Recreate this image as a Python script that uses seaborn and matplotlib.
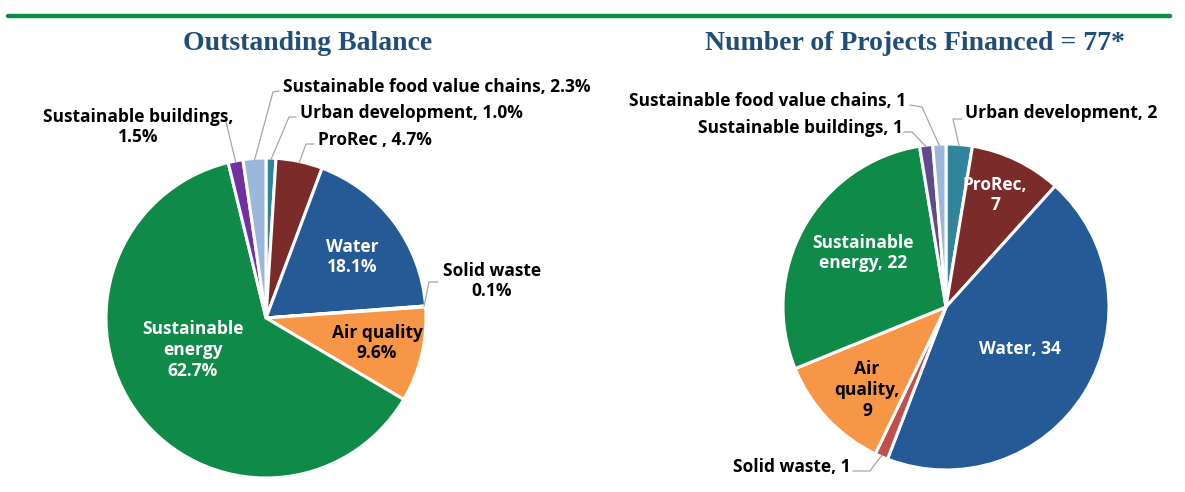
import matplotlib
matplotlib.use("Agg")
import matplotlib.pyplot as plt
import numpy as np
import seaborn as sns

# sectors in clockwise order starting at 12 o'clock
sectors = ["Urban development", "ProRec", "Water", "Solid waste", "Air quality",
           "Sustainable energy", "Sustainable buildings", "Sustainable food value chains"]
balance_pct = [1.0, 4.7, 18.1, 0.1, 9.6, 62.7, 1.5, 2.3]
projects = [2, 7, 34, 1, 9, 22, 1, 1]

left_title = "Outstanding Balance"
right_title = "Number of Projects Financed = 77*"

left_colors = ["#31849B", "#7B2C2A", "#255A96", "#C0504D", "#F79646",
               "#0F8A48", "#7030A0", "#9BB8DC"]
right_colors = ["#31849B", "#7B2C2A", "#255A96", "#C0504D", "#F79646",
                "#0F8A48", "#5F4A8B", "#9BB8DC"]

sns.set_theme(style="white")
plt.rcParams["font.family"] = ["Open Sans", "DejaVu Sans"]

W, H = 1185, 492
fig = plt.figure(figsize=(W / 100, H / 100), dpi=100)
fig.patch.set_facecolor("white")

# green rule across the top
fig.add_artist(plt.Line2D([8 / W, 1170 / W], [1 - 15.5 / H, 1 - 15.5 / H],
                          color="#0F8A48", linewidth=3.2))

title_kw = dict(family=["Liberation Serif", "DejaVu Serif"], weight="bold",
                color="#1F4E79", fontsize=20, ha="center", va="center")
fig.text(308 / W, 1 - 43 / H, left_title, **title_kw)
fig.text(915 / W, 1 - 43 / H, right_title, **title_kw)


def pie_axes(values, colors, cx, cy, r, x0, x1):
    ax = fig.add_axes([x0 / W, 0, (x1 - x0) / W, 1])
    wedges, _ = ax.pie(values, colors=colors, startangle=90, counterclock=False,
                       radius=1.0, wedgeprops=dict(edgecolor="white", linewidth=2.2))
    ax.set_aspect("auto")
    ax.set_xlim((x0 - cx) / r, (x1 - cx) / r)
    ax.set_ylim(-(H - cy) / r, cy / r)
    ax.axis("off")

    def to_data(px, py):
        return (px - cx) / r, (cy - py) / r

    return ax, wedges, to_data


def edge_point(wedge, rr=0.99):
    ang = np.deg2rad((wedge.theta1 + wedge.theta2) / 2)
    return rr * np.cos(ang), rr * np.sin(ang)


lbl = dict(fontsize=12.5, weight="bold", linespacing=1.2, va="center")
lead = dict(color="#A6A6A6", linewidth=0.9)

# ---------- left pie: outstanding balance ----------
ax, wedges, P = pie_axes(balance_pct, left_colors, 266, 318, 160, 0, 592)

inside_left = {
    "Water": ("Water\n18.1%", (352, 257), "white"),
    "Air quality": ("Air quality\n9.6%", (377, 343), "black"),
    "Sustainable energy": ("Sustainable\nenergy\n62.7%", (193, 350), "white"),
}
for name, (txt, pos, col) in inside_left.items():
    ax.text(*P(*pos), txt, color=col, ha="center", **lbl)

# outside labels: text, anchor, alignment, elbow points of leader
outside_left = {
    "Sustainable food value chains": ("Sustainable food value chains, 2.3%", (283, 87), "left",
                                      [(279, 91), (273, 92)]),
    "Urban development": ("Urban development, 1.0%", (300, 113), "left",
                          [(296, 117), (289, 117)]),
    "ProRec": ("ProRec , 4.7%", (318, 140), "left", [(314, 144), (306, 144)]),
    "Sustainable buildings": ("Sustainable buildings,\n1.5%", (138, 127), "center",
                              [(226, 122)]),
    "Solid waste": ("Solid waste\n0.1%", (492, 281), "center",
                    [(438, 282), (429, 282)]),
}
for name, (txt, pos, ha, elbow) in outside_left.items():
    ax.text(*P(*pos), txt, color="black", ha=ha, **lbl)
    w = wedges[sectors.index(name)]
    pts = [P(*p) for p in elbow] + [edge_point(w)]
    ax.plot([p[0] for p in pts], [p[1] for p in pts], **lead)

# ---------- right pie: number of projects ----------
ax, wedges, P = pie_axes(projects, right_colors, 946, 307, 163, 592, W)

inside_right = {
    "ProRec": ("ProRec,\n7", (995, 195), "white"),
    "Sustainable energy": ("Sustainable\nenergy, 22", (863, 253), "white"),
    "Water": ("Water, 34", (1020, 349), "white"),
    "Air quality": ("Air\nquality,\n9", (867, 390), "black"),
}
for name, (txt, pos, col) in inside_right.items():
    ax.text(*P(*pos), txt, color=col, ha="center", **lbl)

outside_right = {
    "Sustainable food value chains": ("Sustainable food value chains, 1", (906, 101), "right",
                                      [(910, 105), (922, 107)]),
    "Sustainable buildings": ("Sustainable buildings, 1", (903, 128), "right",
                              [(904, 132), (912, 132)]),
    "Urban development": ("Urban development, 2", (965, 113), "left",
                         [(962, 119), (953, 119)]),
    "Solid waste": ("Solid waste, 1", (851, 467), "right",
                    [(853, 471), (870, 471)]),
}
for name, (txt, pos, ha, elbow) in outside_right.items():
    ax.text(*P(*pos), txt, color="black", ha=ha, **lbl)
    w = wedges[sectors.index(name)]
    pts = [P(*p) for p in elbow] + [edge_point(w)]
    ax.plot([p[0] for p in pts], [p[1] for p in pts], **lead)

fig.savefig("out.png", dpi=100, facecolor="white")
